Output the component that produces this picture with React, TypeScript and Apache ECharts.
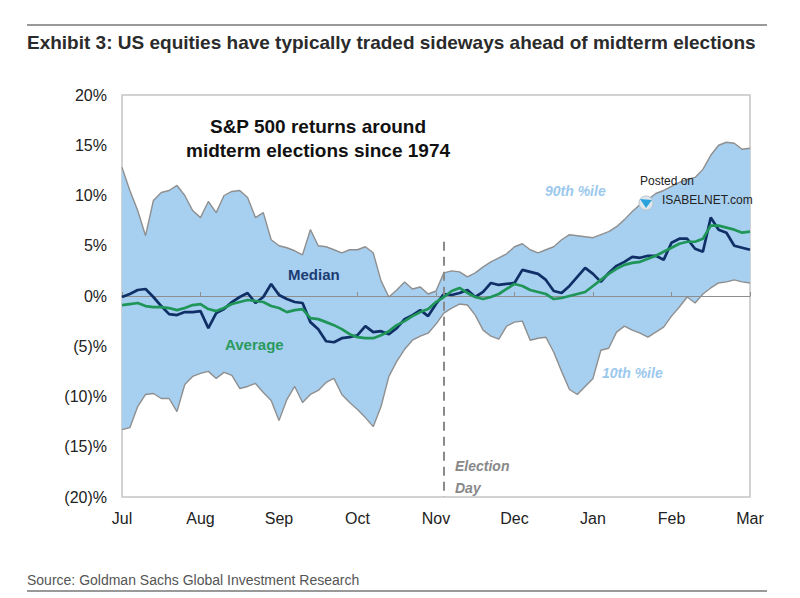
import React, { useEffect, useRef } from 'react';
import * as echarts from 'echarts';

// month labels, one every 10 readings
const months = ['Jul', 'Aug', 'Sep', 'Oct', 'Nov', 'Dec', 'Jan', 'Feb', 'Mar'];

// readings every 0.1 month, from Jul to Mar (81 points)
const p90 = [
  12.8, 10.5, 8.5, 6.0, 9.5, 10.3, 10.5, 11.0, 10.0, 8.5,
  7.8, 9.4, 8.3, 10.0, 10.4, 10.5, 9.8, 7.8, 8.3, 5.6,
  5.0, 4.8, 4.5, 4.1, 6.6, 5.0, 4.9, 4.6, 4.3, 4.6,
  4.6, 4.9, 4.3, 1.5, -0.1, 0.6, 1.4, 0.7, 0.9, 0.2,
  0.5, 2.3, 2.5, 2.4, 1.9, 2.3, 2.9, 3.4, 3.8, 4.2,
  4.9, 5.2, 4.6, 4.3, 4.6, 4.9, 5.6, 6.1, 6.0, 5.9,
  5.8, 6.1, 6.4, 6.9, 7.6, 8.4, 9.1, 9.6, 10.2, 10.5,
  10.9, 11.3, 11.6, 11.8, 12.6, 14.0, 15.0, 15.3, 15.2, 14.6,
  14.7,
];

const p10 = [
  -13.3, -13.1, -11.0, -9.8, -9.7, -10.2, -10.2, -11.5, -8.8, -8.0,
  -7.7, -7.5, -8.2, -7.6, -7.9, -9.2, -9.0, -8.7, -9.6, -10.4,
  -12.4, -10.3, -9.0, -10.6, -9.8, -9.4, -8.6, -8.2, -9.8, -10.6,
  -11.3, -12.1, -13.0, -11.0, -8.0, -6.5, -5.3, -4.4, -4.0, -3.7,
  -2.8, -1.7, -1.2, -0.8, -0.9, -1.9, -3.4, -4.0, -4.3, -3.0,
  -2.6, -2.5, -4.4, -4.2, -4.1, -5.6, -7.5, -9.3, -9.8, -9.0,
  -8.2, -5.4, -5.2, -3.6, -3.0, -3.4, -3.7, -4.1, -3.6, -3.1,
  -2.0, -1.1, -0.1, -0.7, 0.2, 0.8, 1.3, 1.4, 1.6, 1.4,
  1.3,
];

const median = [
  -0.1, 0.2, 0.6, 0.7, -0.1, -1.0, -1.8, -1.9, -1.6, -1.6,
  -1.5, -3.2, -1.7, -1.3, -0.6, -0.1, 0.3, -0.7, -0.1, 1.2,
  0.1, -0.3, -0.6, -0.7, -2.6, -3.3, -4.5, -4.6, -4.2, -4.1,
  -3.9, -3.0, -3.6, -3.5, -3.8, -3.2, -2.3, -1.9, -1.4, -2.0,
  -0.8, 0.2, 0.1, 0.3, 0.6, -0.1, 0.4, 1.3, 1.1, 1.2,
  1.3, 2.6, 2.4, 2.2, 1.6, 0.5, 0.3, 1.0, 1.9, 2.8,
  2.2, 1.4, 2.3, 3.0, 3.4, 3.9, 3.8, 4.0, 4.0, 3.6,
  5.3, 5.7, 5.7, 4.7, 4.4, 7.8, 6.6, 6.3, 5.0, 4.8,
  4.6,
];

const average = [
  -0.9, -0.8, -0.7, -1.0, -1.1, -1.1, -1.2, -1.4, -1.2, -0.9,
  -0.8, -1.3, -1.5, -1.2, -0.8, -0.6, -0.4, -0.5, -0.6, -1.0,
  -1.2, -1.6, -1.4, -1.3, -2.2, -2.3, -2.6, -2.9, -3.3, -3.8,
  -4.1, -4.2, -4.2, -3.9, -3.5, -2.9, -2.5, -2.0, -1.6, -1.3,
  -0.6, -0.1, 0.5, 0.8, 0.3, -0.1, -0.3, -0.1, 0.2, 0.7,
  1.2, 1.0, 0.6, 0.4, 0.2, -0.3, -0.2, 0.0, 0.2, 0.4,
  1.0, 1.6, 2.2, 2.7, 3.1, 3.3, 3.4, 3.7, 4.0, 4.4,
  4.8, 5.2, 5.4, 5.4, 5.7, 7.0, 7.0, 6.8, 6.6, 6.3,
  6.4,
];

// reading index of election day (early November)
const electionIdx = '41';

const FONT = '"Liberation Sans", Arial, sans-serif';

const App: React.FC = () => {
  const chartRef = useRef<HTMLDivElement>(null);

  useEffect(() => {
    document.body.style.margin = '0';
    if (!chartRef.current) return;
    const chart = echarts.init(chartRef.current, undefined, { renderer: 'svg' });

    const steps = p90.map((_, i) => String(i));
    const bandWidth = p90.map((v, i) => v - p10[i]);
    const monthLabel = (_: string, idx: number) => (idx % 10 === 0 ? months[idx / 10] : '');

    const option: echarts.EChartsOption = {
      animation: false,
      backgroundColor: '#fff',
      grid: {
        left: 122,
        right: 50,
        top: 95,
        bottom: 101,
        show: true,
        borderColor: '#c4c4c4',
        borderWidth: 1.5,
      },
      xAxis: [
        {
          type: 'category',
          data: steps,
          boundaryGap: false,
          axisLine: { show: false, onZero: false },
          axisTick: { show: false },
          splitLine: { show: false },
          axisLabel: {
            interval: 9,
            margin: 13,
            fontFamily: FONT,
            fontSize: 16,
            color: '#222',
            formatter: monthLabel,
          },
        },
        {
          type: 'category',
          data: steps,
          boundaryGap: false,
          position: 'bottom',
          z: 3,
          axisLine: { show: true, onZero: true, lineStyle: { color: '#8e8e8e', width: 1.2 } },
          axisTick: { show: true, inside: true, interval: 9, length: 4, lineStyle: { color: '#8e8e8e' } },
          axisLabel: { show: false },
          splitLine: { show: false },
        },
      ],
      yAxis: {
        type: 'value',
        min: -20,
        max: 20,
        interval: 5,
        axisLine: { show: false },
        axisTick: { show: false },
        splitLine: { show: false },
        axisLabel: {
          margin: 15,
          fontFamily: FONT,
          fontSize: 16,
          color: '#222',
          formatter: (v: number) => (v < 0 ? `(${-v})%` : `${v}%`),
        },
      },
      series: [
        {
          name: '10th %ile',
          type: 'line',
          stack: 'band',
          stackStrategy: 'all',
          data: p10,
          symbol: 'none',
          lineStyle: { color: '#8f8f8f', width: 1.4 },
          z: 2,
        },
        {
          name: '90th %ile',
          type: 'line',
          stack: 'band',
          stackStrategy: 'all',
          data: bandWidth,
          symbol: 'none',
          lineStyle: { color: '#8f8f8f', width: 1.4 },
          areaStyle: { color: '#a7cff0', opacity: 1 },
          z: 1,
        },
        {
          name: 'Median',
          type: 'line',
          data: median,
          symbol: 'none',
          lineStyle: { color: '#0f2f66', width: 2.7 },
          z: 4,
          markLine: {
            silent: true,
            symbol: 'none',
            label: { show: false },
            lineStyle: { color: '#8a8a8a', type: [9, 6], width: 2 },
            data: [[{ coord: [electionIdx, 5.4] }, { coord: [electionIdx, -20] }]],
          },
        },
        {
          name: 'Average',
          type: 'line',
          data: average,
          symbol: 'none',
          lineStyle: { color: '#1f9657', width: 2.7 },
          z: 5,
        },
      ],
      graphic: [
        { type: 'line', shape: { x1: 27, y1: 25, x2: 767, y2: 25 }, style: { stroke: '#777', lineWidth: 1.5 } },
        {
          type: 'text',
          x: 27,
          y: 42,
          style: {
            text: 'Exhibit 3: US equities have typically traded sideways ahead of midterm elections',
            font: `bold 19px ${FONT}`,
            fill: '#2b2b2b',
            verticalAlign: 'middle',
          },
        },
        {
          type: 'text',
          x: 318,
          y: 126,
          z: 10,
          style: { text: 'S&P 500 returns around', font: `bold 19px ${FONT}`, fill: '#111', align: 'center', verticalAlign: 'middle' },
        },
        {
          type: 'text',
          x: 318,
          y: 150,
          z: 10,
          style: { text: 'midterm elections since 1974', font: `bold 19px ${FONT}`, fill: '#111', align: 'center', verticalAlign: 'middle' },
        },
        {
          type: 'text',
          x: 288,
          y: 274,
          z: 10,
          style: { text: 'Median', font: `bold 15px ${FONT}`, fill: '#1b3d73', verticalAlign: 'middle' },
        },
        {
          type: 'text',
          x: 225,
          y: 344,
          z: 10,
          style: { text: 'Average', font: `bold 15px ${FONT}`, fill: '#2a9a5c', verticalAlign: 'middle' },
        },
        {
          type: 'text',
          x: 545,
          y: 191,
          z: 10,
          style: { text: '90th %ile', font: `italic bold 14px ${FONT}`, fill: '#9cc8ed', verticalAlign: 'middle' },
        },
        {
          type: 'text',
          x: 602,
          y: 373,
          z: 10,
          style: { text: '10th %ile', font: `italic bold 14px ${FONT}`, fill: '#9cc8ed', verticalAlign: 'middle' },
        },
        {
          type: 'text',
          x: 455,
          y: 466,
          z: 10,
          style: { text: 'Election', font: `italic bold 14px ${FONT}`, fill: '#888', verticalAlign: 'middle' },
        },
        {
          type: 'text',
          x: 455,
          y: 488,
          z: 10,
          style: { text: 'Day', font: `italic bold 14px ${FONT}`, fill: '#888', verticalAlign: 'middle' },
        },
        {
          type: 'circle',
          shape: { cx: 646, cy: 203, r: 7 },
          z: 10,
          style: { fill: '#dfe7ee', stroke: '#b9c4cc', lineWidth: 1 },
        },
        {
          type: 'polygon',
          shape: { points: [[640, 199], [652, 200], [646, 208]] },
          z: 11,
          style: { fill: '#2aa3dc' },
        },
        {
          type: 'text',
          x: 640,
          y: 181,
          z: 10,
          style: { text: 'Posted on', font: `12px ${FONT}`, fill: '#222', verticalAlign: 'middle' },
        },
        {
          type: 'text',
          x: 662,
          y: 200,
          z: 10,
          style: { text: 'ISABELNET.com', font: `12px ${FONT}`, fill: '#222', verticalAlign: 'middle' },
        },
        {
          type: 'text',
          x: 27,
          y: 580,
          style: { text: 'Source: Goldman Sachs Global Investment Research', font: `14px ${FONT}`, fill: '#555', verticalAlign: 'middle' },
        },
        { type: 'line', shape: { x1: 27, y1: 591, x2: 767, y2: 591 }, style: { stroke: '#777', lineWidth: 1.5 } },
      ],
    };

    chart.setOption(option);
    return () => {
      chart.dispose();
    };
  }, []);

  return <div ref={chartRef} style={{ width: '800px', height: '598px' }} />;
};

export default App;
